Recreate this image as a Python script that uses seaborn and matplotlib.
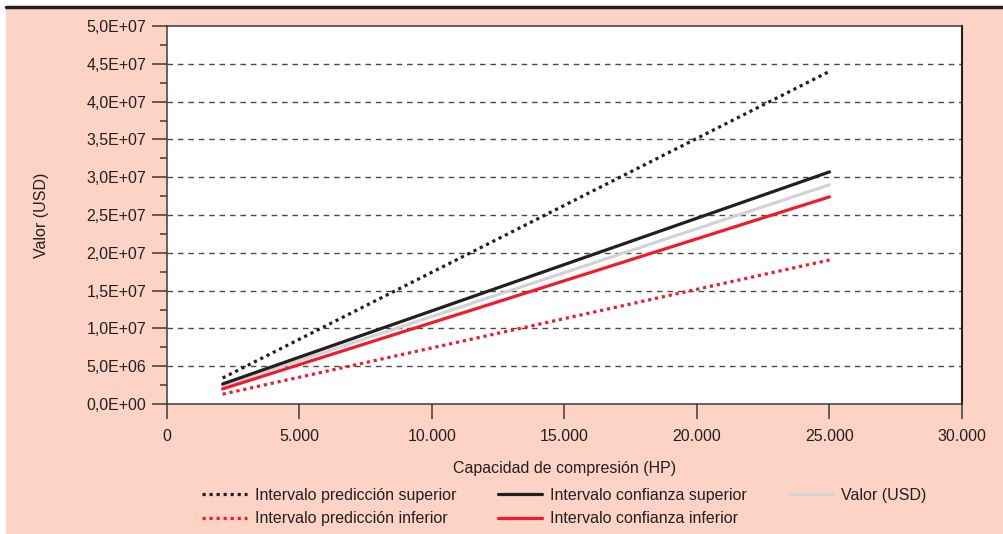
import matplotlib
matplotlib.use("Agg")
import matplotlib.pyplot as plt
import matplotlib.ticker as mticker
from matplotlib.lines import Line2D
from matplotlib.patches import Rectangle
import seaborn as sns
import pandas as pd

# Data
capacidad_hp = [2100, 25000]
pred_superior = [3.44e6, 4.40e7]
conf_superior = [2.65e6, 3.07e7]
valor_usd = [2.40e6, 2.90e7]
conf_inferior = [2.00e6, 2.74e7]
pred_inferior = [1.30e6, 1.905e7]

labels = {
    "pred_sup": "Intervalo predicción superior",
    "pred_inf": "Intervalo predicción inferior",
    "conf_sup": "Intervalo confianza superior",
    "conf_inf": "Intervalo confianza inferior",
    "valor": "Valor (USD)",
}

sns.set_theme(style="white")
plt.rcParams['font.family'] = ['Liberation Sans', 'DejaVu Sans']

TXT = "#231f20"
BG = "#fdd3c6"

fig = plt.figure(figsize=(10.04, 5.34), dpi=100)
fig.patch.set_facecolor("white")
# salmon panel
fig.add_artist(Rectangle((6/1004, 0), 1 - 6/1004, 1 - 8/534, transform=fig.transFigure,
                         facecolor=BG, edgecolor="none", zorder=-10))
# top black rule
fig.add_artist(Line2D([6/1004, 1], [1 - 7/534, 1 - 7/534], transform=fig.transFigure,
                      color="#231f20", lw=2.5))

ax = fig.add_axes([167/1004, 1 - 404/534, (962 - 167)/1004, (404 - 26)/534])
ax.set_facecolor("white")

series = [
    ("pred_sup", pred_superior, "#231f20", (0, (1, 1.2))),
    ("pred_inf", pred_inferior, "#ee1c2e", (0, (1, 1.2))),
    ("conf_sup", conf_superior, "#231f20", "-"),
    ("conf_inf", conf_inferior, "#ee1c2e", "-"),
    ("valor", valor_usd, "#d3d3d3", "-"),
]

z = {"valor": 3, "conf_sup": 4, "conf_inf": 4, "pred_sup": 4, "pred_inf": 4}
for key, vals, col, ls in series:
    df = pd.DataFrame({"x": capacidad_hp, "y": vals})
    sns.lineplot(data=df, x="x", y="y", ax=ax, color=col, linestyle=ls,
                 linewidth=2.3, label=labels[key], zorder=z[key])

ax.set_xlim(0, 30000)
ax.set_ylim(0, 5e7)

ax.xaxis.set_major_locator(mticker.MultipleLocator(5000))
ax.yaxis.set_major_locator(mticker.MultipleLocator(5e6))
ax.yaxis.set_minor_locator(mticker.MultipleLocator(2.5e6))

def xfmt(v, p):
    return f"{int(v):,}".replace(",", ".")

def yfmt(v, p):
    if v == 0:
        return "0,0E+00"
    s = f"{v:.1E}"
    return s.replace(".", ",")

ax.xaxis.set_major_formatter(mticker.FuncFormatter(xfmt))
ax.yaxis.set_major_formatter(mticker.FuncFormatter(yfmt))

ax.tick_params(axis="both", which="major", direction="out", length=11, width=1.1,
               color="#3a3a3a", labelsize=11.5, labelcolor=TXT, pad=4,
               left=True, bottom=True)
ax.tick_params(axis="x", which="major", pad=7)
ax.tick_params(axis="y", which="minor", direction="out", length=5, width=1.1,
               color="#3a3a3a", left=True)

for yv in range(1, 10):
    ax.axhline(yv * 5e6, color="#4a4a4a", lw=1.0, ls=(0, (4, 3.5)), zorder=1)

for s in ax.spines.values():
    s.set_visible(True)
    s.set_color("#3a3a3a")
    s.set_linewidth(1.1)
ax.spines["right"].set_color("#231f20")
ax.spines["right"].set_linewidth(1.5)

ax.set_xlabel("Capacidad de compresión (HP)", fontsize=11.5, color=TXT, labelpad=12)
ax.set_ylabel("Valor (USD)", fontsize=11.5, color=TXT, labelpad=27)

handles, labs = ax.get_legend_handles_labels()
ax.legend(handles, labs, ncol=3, loc="center", bbox_to_anchor=(0.5, -0.2725),
          frameon=False, fontsize=11.5, labelcolor=TXT, handlelength=2.8,
          handletextpad=0.5, columnspacing=2.6, labelspacing=0.55)

fig.savefig("out.png", dpi=100, facecolor=fig.get_facecolor())
